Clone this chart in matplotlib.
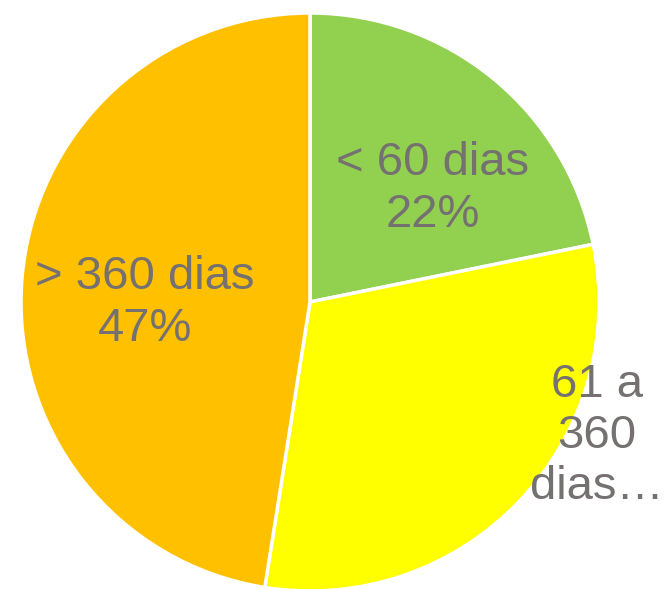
import matplotlib.pyplot as plt

# data
labels = ["< 60 dias\n22%", "61 a\n360\ndias…", "> 360 dias\n47%"]
values = [21.8, 30.7, 47.5]
colors = ["#92D050", "#FFFF00", "#FFC000"]

plt.rcParams['font.family'] = ['Liberation Sans', 'DejaVu Sans']

fig = plt.figure(figsize=(6.7, 5.89), dpi=100)
ax = fig.add_axes([0, 0, 1, 1])

wedges, texts = ax.pie(values, labels=labels, colors=colors, startangle=90,
                       counterclock=False, center=(310, 287), radius=289,
                       labeldistance=0.58,
                       wedgeprops=dict(edgecolor="white", linewidth=2.5),
                       textprops=dict(color="#767171", fontsize=34,
                                      ha="center", va="center",
                                      multialignment="center", linespacing=1.22))

# label placement like the original (best fit)
texts[0].set_position((433, 589 - 189))
texts[1].set_position((597, 589 - 436))
texts[2].set_position((145, 589 - 303))

ax.set_xlim(0, 670)
ax.set_ylim(0, 589)
ax.set_aspect("equal")
ax.axis("off")

fig.savefig("out.png", dpi=100)
